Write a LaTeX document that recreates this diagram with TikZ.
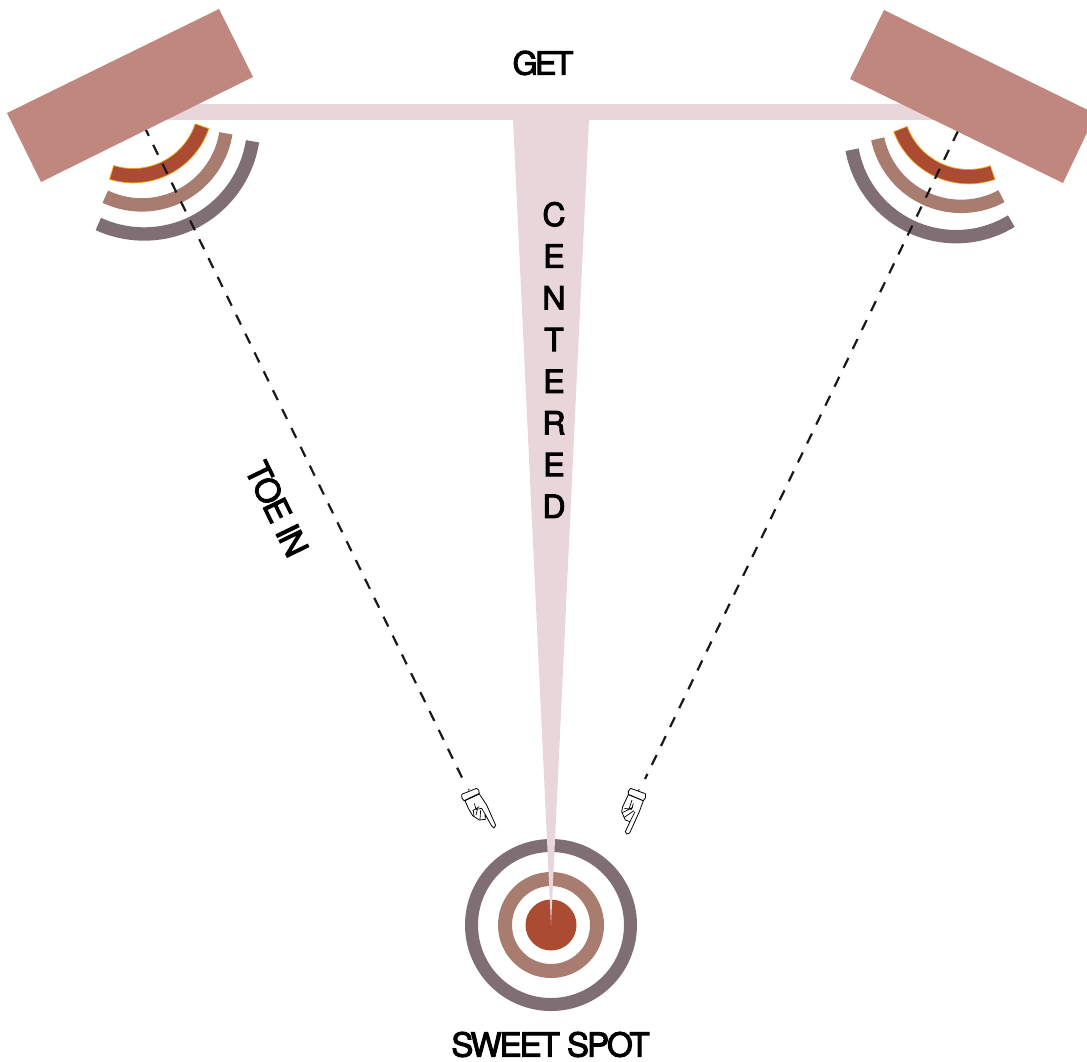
\documentclass[tikz,border=0pt]{standalone}
\usepackage{fontspec}
\setmainfont{TeX Gyre Heros}[FakeBold=3]
\newfontfamily\tightfont{TeX Gyre Heros}[FakeBold=3,LetterSpace=-6]
\newfontfamily\tighterfont{TeX Gyre Heros}[FakeBold=3,LetterSpace=-8]
\definecolor{cabinet}{HTML}{BF877D}
\definecolor{blush}{HTML}{E8D6DB}
\definecolor{rust}{HTML}{AB4C32}
\definecolor{taupe}{HTML}{A87D6F}
\definecolor{mauve}{HTML}{7F6E73}
\definecolor{edgeorange}{HTML}{F5A623}
\newcommand{\wavearc}[5]{plot[domain=#4:#5,samples=48] ({#1+#3*cos(\x)},{#2+#3*sin(\x)})}
\tikzset{
  label text/.style={font=\tightfont\fontsize{33}{33}\selectfont,text=black,inner sep=0pt},
  sight/.style={draw=black!90,line width=2.2pt,dash pattern=on 11pt off 10pt},
  ring/.style={draw,fill=none},
  wave/.style={line width=13.4pt,line cap=butt},
  handline/.style={draw=black,line width=0.8pt,fill=white,line join=round},
  zoomL/.style={shift={(0,0)},x=0.33333pt,y=-0.33333pt},
  zoomR/.style={shift={(800,0)},x=0.33333pt,y=-0.33333pt},
  zoomH/.style={shift={(440,770)},x=0.33333pt,y=-0.33333pt},
}
\begin{document}
\begin{tikzpicture}[x=1pt,y=-1pt]
\useasboundingbox (0,0) rectangle (1087,1061);
\clip (0,0) rectangle (1087,1061);
% sweet spot target
\coordinate (spot) at (551,925);
\draw[ring,draw=mauve,line width=13pt] (spot) circle[radius=79.5];
\draw[ring,draw=taupe,line width=14pt] (spot) circle[radius=46];
\fill[rust] (spot) circle[radius=25.5];
% centre bar and wedge
\fill[blush] (160,104) rectangle (940,120);
\fill[blush] (513,119) -- (589,119) -- (spot) -- cycle;
% left waves
\begin{scope}[zoomL]
\draw[wave,mauve] \wavearc{432.5}{373}{329}{8.9}{114.7};
\draw[wave,taupe] \wavearc{425.5}{359.4}{255.3}{9.15}{115.4};
\draw[wave,edgeorange,line width=15.2pt] \wavearc{399.6}{309.2}{217.8}{18.3}{107.6};
\draw[wave,rust] \wavearc{399.6}{309.2}{217.8}{19}{106.9};
\end{scope}
% right waves
\begin{scope}[zoomR]
\draw[wave,mauve] \wavearc{468.3}{393}{317}{58.5}{169.8};
\draw[wave,taupe] \wavearc{483.2}{363.4}{255.7}{61.7}{168};
\draw[wave,edgeorange,line width=15.2pt] \wavearc{506}{312}{218}{70.4}{160.1};
\draw[wave,rust] \wavearc{506}{312}{218}{71.1}{159.4};
\end{scope}
% sight lines
\coordinate (leftAim) at (144,126);
\coordinate (leftHand) at (462.7,779);
\coordinate (rightAim) at (958,131);
\coordinate (rightHand) at (645,779);
\draw[sight] (leftAim) -- (leftHand);
\draw[sight] (rightAim) -- (rightHand);
% speakers
\fill[cabinet] (219,9) -- (253,77) -- (41,182) -- (7,113) -- cycle;
\fill[cabinet] (884,10) -- (1096,114) -- (1063,183) -- (850,79) -- cycle;
% pointing hands
\begin{scope}[zoomH]
\path[handline] (75,92) -- (85,115) -- (98,137) -- (118,150) -- (136,148) -- (135,132) -- (155,168) -- (162,174) -- (167,166) -- (140,105) -- (118,72) -- cycle;
\path[handline] (65,73) -- (110,55) .. controls (115,55) and (118,65) .. (118,70) -- (72,92) .. controls (66,90) and (64,80) .. (65,73) -- cycle;
\draw[black,line width=0.7pt] (85,61) -- (88,56) (103,100) -- (108,118) -- (125,115) -- (135,132) (98,122) -- (118,110) (108,135) -- (112,118) (120,148) -- (122,120) (102,138) -- (100,122);
\path[handline] (565,74) -- (548,110) -- (545,125) -- (556,150) -- (570,155) -- (556,185) -- (560,192) -- (569,189) -- (598,125) -- (610,92) -- cycle;
\path[handline] (572,55) -- (616,71) .. controls (620,78) and (616,88) .. (610,92) -- (565,73) .. controls (562,68) and (566,58) .. (572,55) -- cycle;
\draw[black,line width=0.7pt] (595,62) -- (598,57) (580,100) -- (575,118) -- (553,115) (547,128) -- (578,112) (553,142) -- (582,122) (570,155) -- (585,125) (576,90) -- (566,120);
\end{scope}
% labels
\node[label text,font=\tighterfont\fontsize{32}{32}\selectfont] (get) at (543,63) {GET};
\node[label text] (sweet) at (550.5,1044.5) {SWEET SPOT};
\node[label text,rotate=-64] (toe) at (277,509) {TOE IN};
\node[label text,font=\fontsize{32}{41.7}\selectfont,align=center] (centered) at (554,360) {C\\E\\N\\T\\E\\R\\E\\D};
\end{tikzpicture}
\end{document}
